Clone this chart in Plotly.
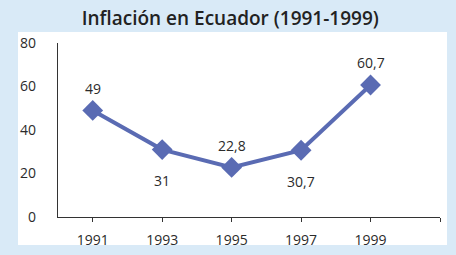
import plotly.graph_objects as go

years = [1991, 1993, 1995, 1997, 1999]
inflation = [49, 31, 22.8, 30.7, 60.7]
label_pos = ["above", "below", "above", "below", "above"]
xtick_vals = [1991, 1993, 1995, 1997, 1999, 2001]
xtick_text = ["1991", "1993", "1995", "1997", "1999", ""]
ytick_vals = [0, 20, 40, 60, 80]

W, H = 456, 255
ml, mr, mt, mb = 58, W - 440, 43, H - 217
pw, ph = W - ml - mr, H - mt - mb

line_color = "#5a6bb3"
text_color = "#2b2b2b"

fig = go.Figure()
fig.add_trace(go.Scatter(
    x=years, y=inflation, mode="lines+markers",
    line=dict(color=line_color, width=4),
    marker=dict(symbol="diamond", size=16, color=line_color),
    hoverinfo="skip", showlegend=False,
))

for x, y, p in zip(years, inflation, label_pos):
    txt = (f"{y:g}").replace(".", ",")
    fig.add_annotation(x=x, y=y, text=txt, showarrow=False,
                       yshift=22 if p == "above" else -31,
                       font=dict(family="Open Sans", size=14, color=text_color))

# white panel behind the chart
fig.add_shape(type="rect", xref="paper", yref="paper",
              x0=(18 - ml) / pw, x1=(447 - ml) / pw,
              y0=(217 - 245) / ph, y1=(217 - 32) / ph,
              fillcolor="white", line=dict(width=0), layer="below")

fig.update_layout(
    width=W, height=H,
    margin=dict(l=ml, r=mr, t=mt, b=mb, autoexpand=False),
    paper_bgcolor="#d9eaf7", plot_bgcolor="rgba(0,0,0,0)",
    title=dict(text="Inflación en Ecuador (1991-1999)", x=0.505, xanchor="center",
               y=1 - 18 / H, yanchor="middle",
               font=dict(family="Open Sans", size=19, weight=600, color="#222")),
    font=dict(family="Open Sans", size=14, color=text_color),
)
fig.update_xaxes(range=[1990, 2001], tickvals=xtick_vals, ticktext=xtick_text,
                 showgrid=False, zeroline=False, showline=True, linecolor="#333",
                 linewidth=1.2, ticks="outside", ticklen=4, tickcolor="#333",
                 ticklabelstandoff=6, tickfont=dict(size=14), automargin=False)
fig.update_yaxes(range=[0, 80], tickvals=ytick_vals, showgrid=False, zeroline=False,
                 showline=True, linecolor="#333", linewidth=1.2, ticks="",
                 ticklabelstandoff=18, tickfont=dict(size=14), automargin=False)

fig.write_html("out.html")
